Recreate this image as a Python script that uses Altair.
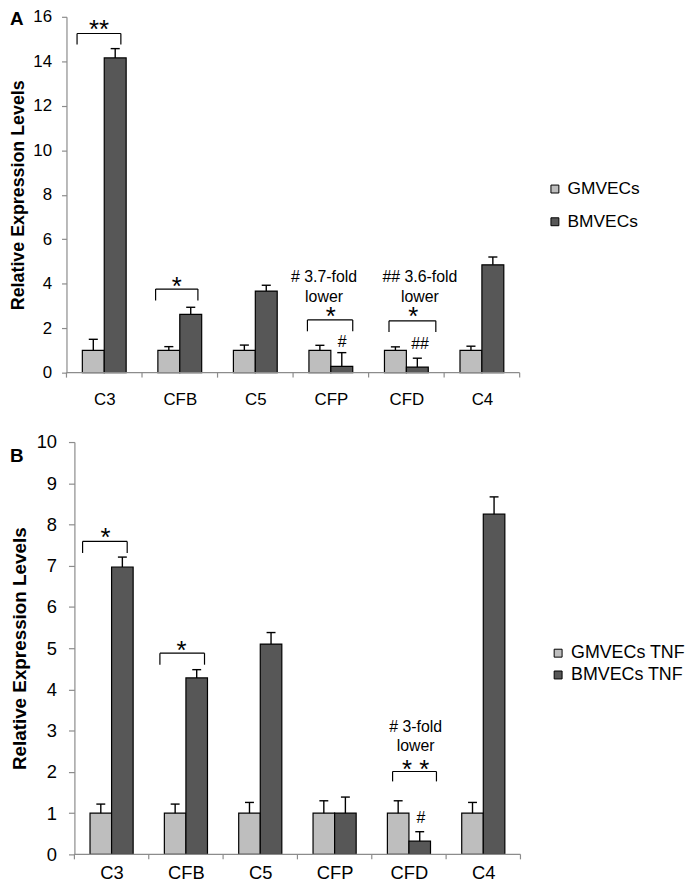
import altair as alt
import pandas as pd

categories = ["C3", "CFB", "C5", "CFP", "CFD", "C4"]

# ---------------- Panel A ----------------
a_series = ["GMVECs", "BMVECs"]
a_gm = [1.0, 1.0, 1.0, 1.0, 1.0, 1.0]
a_gm_err = [0.50, 0.17, 0.24, 0.23, 0.16, 0.19]
a_bm = [14.15, 2.62, 3.67, 0.28, 0.25, 4.85]
a_bm_err = [0.42, 0.32, 0.26, 0.62, 0.40, 0.35]

a_br_x0 = [0.14, 1.18, 3.19, 4.27]
a_br_x1 = [0.72, 1.74, 3.79, 4.89]
a_br_top = [15.25, 3.76, 2.37, 2.33]
a_br_bot = [14.75, 3.24, 1.86, 1.83]
a_star_txt = ["**", "*", "*", "*"]
a_star_x = [0.43, 1.46, 3.50, 4.59]
a_star_y = [15.68, 4.10, 2.75, 2.75]
a_note_txt = ["# 3.7-fold", "lower", "## 3.6-fold", "lower", "#", "##"]
a_note_x = [3.41, 3.41, 4.68, 4.68, 3.65, 4.68]
a_note_y = [4.28, 3.42, 4.28, 3.42, 1.39, 1.29]

# ---------------- Panel B ----------------
b_series = ["GMVECs TNF", "BMVECs TNF"]
b_gm = [1.0, 1.0, 1.0, 1.0, 1.0, 1.0]
b_gm_err = [0.22, 0.22, 0.26, 0.30, 0.30, 0.26]
b_bm = [6.97, 4.28, 5.10, 1.00, 0.32, 8.25]
b_bm_err = [0.24, 0.20, 0.28, 0.39, 0.23, 0.42]

b_br_x0 = [0.11, 1.15, 4.28]
b_br_x1 = [0.71, 1.75, 4.87]
b_br_top = [7.59, 4.88, 2.01]
b_br_bot = [7.31, 4.60, 1.77]
b_star_txt = ["*", "*", "* *"]
b_star_x = [0.42, 1.44, 4.59]
b_star_y = [7.81, 5.07, 2.20]
b_note_txt = ["# 3-fold", "lower", "#"]
b_note_x = [4.59, 4.59, 4.66]
b_note_y = [3.08, 2.62, 0.89]

LIGHT = "#BEBEBE"
DARK = "#575757"
GREY = "#8C8C8C"
FONT = "Liberation Sans"
BAR_START, BAR_W, CAP = 0.21, 0.29, 0.06


def bar_frame(gm, gm_err, bm, bm_err, names):
    rows = []
    for i, c in enumerate(categories):
        for k, (v, e) in enumerate([(gm[i], gm_err[i]), (bm[i], bm_err[i])]):
            left = i + BAR_START + k * BAR_W
            xc = left + BAR_W / 2
            rows.append(dict(cat=c, series=names[k], order=k, value=v, top=v + e,
                             x0=left, x1=left + BAR_W, xc=xc, c0=xc - CAP, c1=xc + CAP))
    return pd.DataFrame(rows)


def bracket_frame(x0, x1, top, bot):
    rows = []
    for a, b, t, u in zip(x0, x1, top, bot):
        rows.append(dict(sx=a, sx2=b, sy=t, sy2=t))
        rows.append(dict(sx=a, sx2=a, sy=t, sy2=u))
        rows.append(dict(sx=b, sx2=b, sy=t, sy2=u))
    return pd.DataFrame(rows)


def panel(df, names, ymax, ystep, band_px, lead_px, height, fs_lab, fs_title, lab_pad_x,
          tick_y, lab_pad_y, title_pad, legend_xy, legend_fs, legend_row,
          br, stars, notes, letter, letter_xy, star_fs, star_dy):
    ncat = len(categories)
    lead = lead_px / band_px
    width = band_px * ncat + lead_px
    xscale = alt.Scale(domain=[-lead, ncat], nice=False, zero=False)
    xaxis = alt.Axis(values=[i + 0.5 for i in range(ncat)],
                     labelExpr=f"{categories!r}[floor(datum.value)]",
                     ticks=False, domain=False,
                     labelFontSize=fs_lab, labelPadding=lab_pad_x, labelColor="black",
                     labelFont=FONT, grid=False, title=None, labelAngle=0)
    yscale = alt.Scale(domain=[0, ymax], nice=False)
    yaxis = alt.Axis(values=list(range(0, ymax + 1, ystep)), title="Relative Expression Levels",
                     titleFontSize=fs_title, titleFontWeight="bold", titleFont=FONT,
                     titleColor="black", titlePadding=title_pad,
                     labelFontSize=fs_lab, labelFont=FONT, labelColor="black",
                     labelPadding=lab_pad_y, tickSize=tick_y, tickColor=GREY, tickWidth=1.2,
                     domainColor=GREY, domainWidth=1.2, grid=False, offset=-lead_px)

    def X(f):
        return alt.X(f, type="quantitative", scale=xscale, axis=xaxis)

    def Y(f):
        return alt.Y(f, type="quantitative", scale=yscale, axis=yaxis)

    base = alt.Chart(df)
    bars = base.mark_bar(stroke="black", strokeWidth=1.2).encode(
        x=X("x0"), x2="x1:Q", y=Y("value"), y2=alt.datum(0),
        color=alt.Color("series:N", sort=names,
                        scale=alt.Scale(domain=names, range=[LIGHT, DARK]),
                        legend=alt.Legend(title=None, orient="none",
                                          legendX=legend_xy[0], legendY=legend_xy[1],
                                          symbolType="square", symbolSize=64,
                                          symbolStrokeColor="black", symbolStrokeWidth=1,
                                          labelFontSize=legend_fs, labelFont=FONT,
                                          labelColor="black", rowPadding=legend_row,
                                          labelOffset=4)))
    err = base.mark_rule(color="black", strokeWidth=1.4).encode(
        x=X("xc"), y=Y("value"), y2="top:Q")
    cap = base.mark_rule(color="black", strokeWidth=1.4).encode(
        x=X("c0"), x2="c1:Q", y=Y("top"))

    bounds = pd.DataFrame({"b": list(range(ncat + 1))})
    xticks = alt.Chart(bounds).mark_rule(color=GREY, strokeWidth=1.2).encode(
        x=X("b"), y=alt.value(height), y2=alt.value(height + 5))
    baseline = alt.Chart(pd.DataFrame({"a": [0], "b": [ncat]})).mark_rule(
        color=GREY, strokeWidth=1.2).encode(x=X("a"), x2="b:Q", y=alt.value(height))

    brk = alt.Chart(br).mark_rule(color="black", strokeWidth=1.2).encode(
        x=X("sx"), x2="sx2:Q", y=Y("sy"), y2="sy2:Q")
    st = alt.Chart(stars).mark_text(fontSize=star_fs, font=FONT, color="black",
                                    baseline="middle", dy=star_dy).encode(
        x=X("x"), y=Y("y"), text="t:N")
    nt = alt.Chart(notes).mark_text(fontSize=16, font=FONT, color="black",
                                    baseline="middle").encode(
        x=X("x"), y=Y("y"), text="t:N")
    let = alt.Chart(pd.DataFrame({"t": [letter]})).mark_text(
        fontSize=19, fontWeight="bold", font=FONT, color="black",
        align="left", baseline="middle").encode(
        text="t:N", x=alt.value(letter_xy[0]), y=alt.value(letter_xy[1]))

    return alt.layer(bars, err, cap, baseline, xticks, brk, st, nt, let).properties(
        width=width, height=height)


dfa = bar_frame(a_gm, a_gm_err, a_bm, a_bm_err, a_series)
dfb = bar_frame(b_gm, b_gm_err, b_bm, b_bm_err, b_series)

top = panel(dfa, a_series, 16, 2, 76.2, 0, 359, 17, 18, 19, 5, 10, 5,
            (484, 165), 17.5, 14,
            bracket_frame(a_br_x0, a_br_x1, a_br_top, a_br_bot),
            pd.DataFrame({"t": a_star_txt, "x": a_star_x, "y": a_star_y}),
            pd.DataFrame({"t": a_note_txt, "x": a_note_x, "y": a_note_y}),
            "A", (-57, 2), 26, 6)

bottom = panel(dfb, b_series, 10, 1, 75, 8, 416, 18.5, 19, 9, 6, 12, 7,
               (487, 204), 18, 4,
               bracket_frame(b_br_x0, b_br_x1, b_br_top, b_br_bot),
               pd.DataFrame({"t": b_star_txt, "x": b_star_x, "y": b_star_y}),
               pd.DataFrame({"t": b_note_txt, "x": b_note_x, "y": b_note_y}),
               "B", (-57, 14), 26, 6)

chart = alt.vconcat(top, bottom, spacing=26).resolve_scale(
    color="independent", x="independent", y="independent"
).resolve_legend(color="independent").properties(
    padding={"left": 2, "top": -4, "right": 0, "bottom": 0}
).configure(font=FONT).configure_view(strokeWidth=0, stroke="transparent")

chart.save("out.html", embed_options={"renderer": "svg", "actions": False})
